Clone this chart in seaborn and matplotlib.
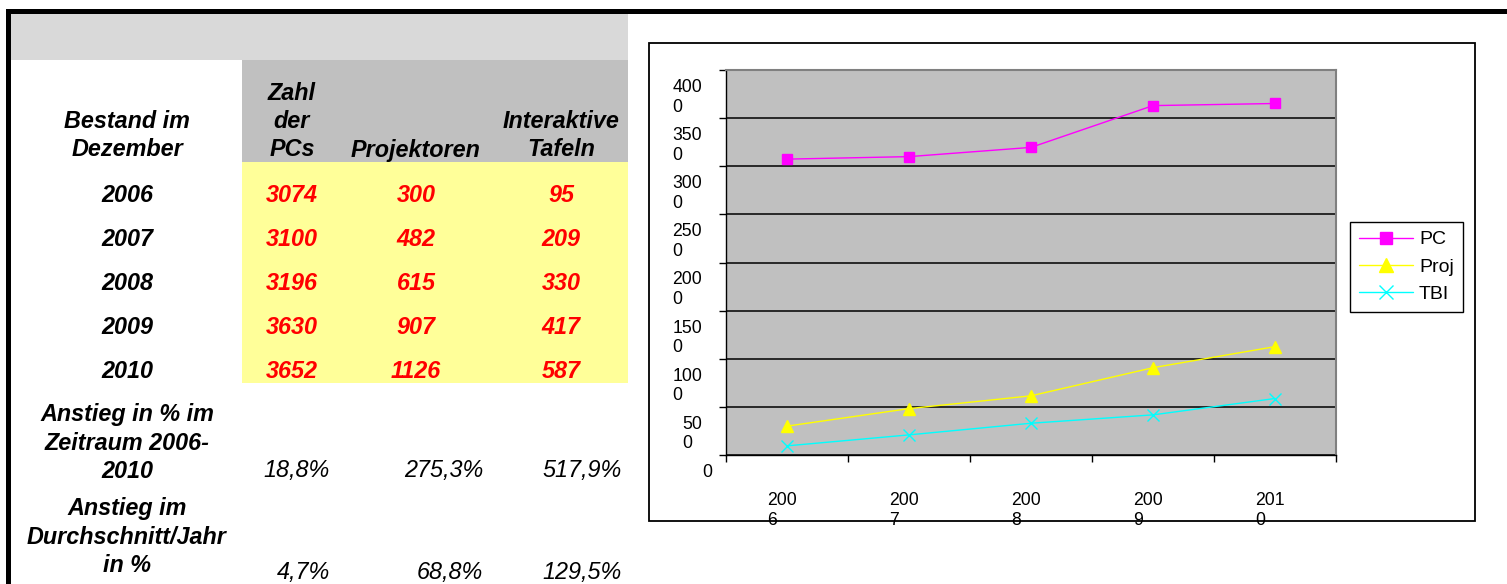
import matplotlib
matplotlib.use("Agg")
import matplotlib.pyplot as plt
import matplotlib.patches as mpatches
import matplotlib.transforms as mtransforms
import seaborn as sns

# Daten aus der Tabelle
years = [2006, 2007, 2008, 2009, 2010]
pc = [3074, 3100, 3196, 3630, 3652]
proj = [300, 482, 615, 907, 1126]
tbi = [95, 209, 330, 417, 587]

anstieg_gesamt = ["18,8%", "275,3%", "517,9%"]
anstieg_jahr = ["4,7%", "68,8%", "129,5%"]

series_names = ["PC", "Proj", "TBI"]
series_colors = ["#ff00ff", "#ffff00", "#00ffff"]
series_markers = ["s", "^", "x"]
series_msize = [7.5, 8.5, 8.5]

yticks = [0, 500, 1000, 1500, 2000, 2500, 3000, 3500, 4000]
ytick_labels = ["0", "50\n0", "100\n0", "150\n0", "200\n0", "250\n0", "300\n0", "350\n0", "400\n0"]
xtick_labels = ["200\n6", "200\n7", "200\n8", "200\n9", "201\n0"]

W, H = 1507, 584
sns.set_style("white")
plt.rcParams["font.family"] = ["Liberation Sans", "DejaVu Sans"]
plt.rcParams["text.color"] = "black"

fig = plt.figure(figsize=(W / 100, H / 100), dpi=100)

# Hintergrund in Pixelkoordinaten (Tabelle, Rahmen)
bg = fig.add_axes([0, 0, 1, 1], zorder=0)
bg.set_xlim(0, W)
bg.set_ylim(H, 0)
bg.axis("off")


def rect(x0, y0, x1, y1, color, **kw):
    bg.add_patch(mpatches.Rectangle((x0, y0), x1 - x0, y1 - y0, facecolor=color,
                                    edgecolor=kw.pop("edgecolor", "none"), **kw))


rect(6, 9, W, 14, "black")
rect(6, 9, 11, H, "black")
rect(11, 14, 628, 60, "#d9d9d9")
rect(242, 60, 628, 162, "#c0c0c0")
rect(242, 162, 628, 383, "#ffff99")
rect(649, 43, 1475, 521, "white", edgecolor="black", linewidth=1.3)

bold = dict(fontsize=16.8, fontweight="bold", fontstyle="italic", ha="center", va="center",
            color="black")
plain = dict(fontsize=16.8, fontstyle="italic", ha="right", va="center", color="black")


def lines(x, y0, texts, **kw):
    for i, t in enumerate(texts):
        bg.text(x, y0 + 28 * i, t, **kw)


col_x = [292, 416, 561]
lines(127, 122, ["Bestand im", "Dezember"], **bold)
lines(col_x[0], 93, ["Zahl", "der", "PCs"], **bold)
lines(col_x[1], 150, ["Projektoren"], **bold)
lines(col_x[2], 121, ["Interaktive", "Tafeln"], **bold)

red = dict(bold, color="red")
for i, (yr, a, b, c) in enumerate(zip(years, pc, proj, tbi)):
    y = 195 + 44 * i
    bg.text(127, y, str(yr), **bold)
    for x, v in zip(col_x, (a, b, c)):
        bg.text(x, y, str(v), **red)

lines(127, 415, ["Anstieg in % im", "Zeitraum 2006-", "2010"], **bold)
lines(127, 509, ["Anstieg im", "Durchschnitt/Jahr", "in %"], **bold)
right_x = [330, 483, 622]
for x, s in zip(right_x, anstieg_gesamt):
    bg.text(x, 471, s, **plain)
for x, s in zip(right_x, anstieg_jahr):
    bg.text(x, 572, s, **plain)

# Diagramm
ax = fig.add_axes([726 / W, 1 - 455 / H, 610 / W, 385 / H], zorder=2)
ax.set_facecolor("#c0c0c0")

for name, vals, col, mk, ms in zip(series_names, [pc, proj, tbi], series_colors,
                                   series_markers, series_msize):
    sns.lineplot(x=years, y=vals, ax=ax, color=col, marker=mk, markersize=ms,
                 markeredgecolor=col, markerfacecolor=col, markeredgewidth=1.0,
                 linewidth=1.0, label=name)

ax.set_xlim(years[0] - 0.5, years[-1] + 0.5)
ax.set_ylim(yticks[0], yticks[-1])
ax.set_xlabel("")
ax.set_ylabel("")

ax.set_yticks(yticks)
ax.set_yticklabels([])
ax.set_xticks(years)
ax.set_xticklabels([])
ax.set_xticks([y - 0.5 for y in years] + [years[-1] + 0.5], minor=True)
ax.tick_params(axis="y", left=True, length=5, width=1, color="black", direction="out")
ax.tick_params(axis="x", which="major", bottom=True, length=0)
ax.tick_params(axis="x", which="minor", bottom=True, length=5, width=1, color="black",
               direction="out")
ax.yaxis.grid(True, color="black", linewidth=1.1)
ax.xaxis.grid(False)
ax.set_axisbelow(True)

for s in ("left", "bottom"):
    ax.spines[s].set_color("black")
    ax.spines[s].set_linewidth(1.0)
for s in ("top", "right"):
    ax.spines[s].set_color("#808080")
    ax.spines[s].set_linewidth(1.5)

px = fig.dpi_scale_trans
for v, lab in zip(yticks, ytick_labels):
    dx = -14 if lab == "0" else -24
    tr = ax.get_yaxis_transform() + mtransforms.ScaledTranslation(dx / 100, -9 / 100, px)
    ax.text(0, v, lab, transform=tr, ha="right", va="top", multialignment="left",
            fontsize=12.7, linespacing=1.2, color="black", clip_on=False)

for yr, lab in zip(years, xtick_labels):
    tr = ax.get_xaxis_transform() + mtransforms.ScaledTranslation(-5 / 100, -37 / 100, px)
    ax.text(yr, 0, lab, transform=tr, ha="center", va="top", multialignment="left",
            fontsize=12.7, linespacing=1.2, color="black", clip_on=False)

leg = ax.legend(loc="upper left", bbox_to_anchor=(1350 / W, 1 - 222 / H),
                bbox_transform=fig.transFigure, frameon=True, fancybox=False,
                edgecolor="black", framealpha=1, fontsize=14, handlelength=2.8,
                handletextpad=0.3, labelspacing=0.5, borderpad=0.45, borderaxespad=0,
                markerscale=1.2)
leg.get_frame().set_linewidth(1.0)
for t in leg.get_texts():
    t.set_color("black")

fig.savefig("out.png", dpi=100)
